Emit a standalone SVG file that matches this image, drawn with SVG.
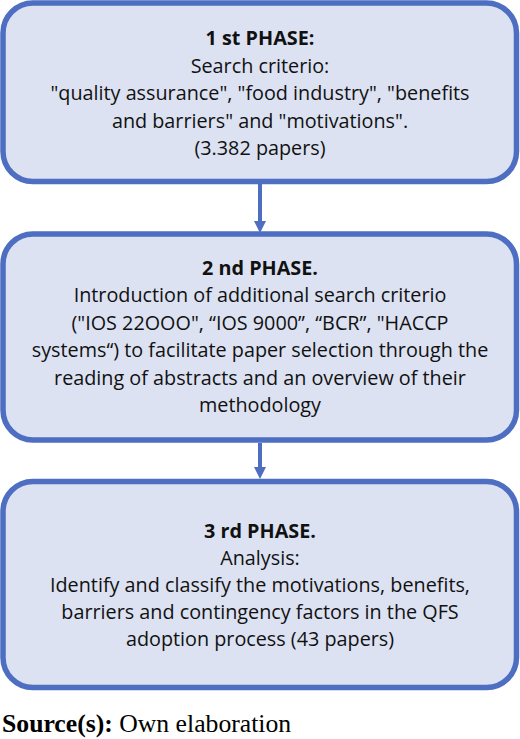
<svg xmlns="http://www.w3.org/2000/svg" width="520" height="739" viewBox="0 0 520 739">
<defs>
<style>
.box{fill:#DCE2F2;stroke:#4E6EC2;stroke-width:5.5}
.t{font-family:"Open Sans","Liberation Sans",sans-serif;font-size:19.8px;fill:#111;text-anchor:middle}
.b{font-weight:bold}
.conn{stroke:#4E6EC2;stroke-width:4;fill:none}
.src{font-family:"Liberation Serif",serif;font-size:25.7px;fill:#000}
</style>
</defs>
<rect width="520" height="739" fill="#fff"/>
<g id="connectors">
<line class="conn" x1="260" y1="184" x2="260" y2="222"/>
<path d="M254,221 L266,221 L260,233 Z" fill="#4E6EC2"/>
<line class="conn" x1="260" y1="443" x2="260" y2="468"/>
<path d="M254,467 L266,467 L260,479 Z" fill="#4E6EC2"/>
</g>
<g id="phase1">
<rect class="box" x="3" y="3" width="513.5" height="178.5" rx="30"/>
<text class="t b" x="260" y="45">1 st PHASE:</text>
<text class="t" x="260" y="72.5">Search criterio:</text>
<text class="t" x="260" y="100">"quality assurance", "food industry", "benefits</text>
<text class="t" x="260" y="127.5">and barriers" and "motivations".</text>
<text class="t" x="260" y="154.5">(3.382 papers)</text>
</g>
<g id="phase2">
<rect class="box" x="3" y="234" width="513.5" height="206" rx="30"/>
<text class="t b" x="260" y="275">2 nd PHASE.</text>
<text class="t" x="260" y="302">Introduction of additional search criterio</text>
<text class="t" x="260" y="329.5">("IOS 22OOO", “IOS 9000”, “BCR”, "HACCP</text>
<text class="t" x="260" y="357">systems“) to facilitate paper selection through the</text>
<text class="t" x="260" y="384.5">reading of abstracts and an overview of their</text>
<text class="t" x="260" y="412">methodology</text>
</g>
<g id="phase3">
<rect class="box" x="3" y="481.5" width="513.5" height="206" rx="30"/>
<text class="t b" x="260" y="537.5">3 rd PHASE.</text>
<text class="t" x="260" y="564.5">Analysis:</text>
<text class="t" x="260" y="591.5">Identify and classify the motivations, benefits,</text>
<text class="t" x="260" y="618.5">barriers and contingency factors in the QFS</text>
<text class="t" x="260" y="646">adoption process (43 papers)</text>
</g>
<text class="src" x="2" y="731.5"><tspan font-weight="bold">Source(s):</tspan> Own elaboration</text>
</svg>
